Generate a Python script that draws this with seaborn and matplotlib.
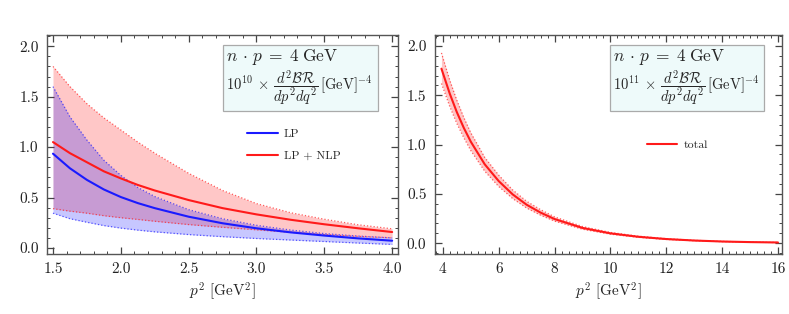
import numpy as np
import pandas as pd
import seaborn as sns
from matplotlib import pyplot as plt
from matplotlib.patches import Rectangle
from matplotlib.ticker import MultipleLocator

# left panel: p^2 grid and LP / LP+NLP curves with their bands
p2_left = [1.5, 1.625, 1.75, 1.875, 2.0, 2.125, 2.25, 2.5, 2.75, 3.0, 3.25, 3.5, 3.75, 4.0]
lp_mid = [0.935, 0.79, 0.675, 0.58, 0.505, 0.445, 0.395, 0.31, 0.245, 0.195, 0.155, 0.123, 0.095, 0.072]
lp_hi = [1.60, 1.30, 1.07, 0.87, 0.72, 0.60, 0.51, 0.38, 0.29, 0.225, 0.178, 0.143, 0.118, 0.10]
lp_lo = [0.345, 0.29, 0.255, 0.222, 0.197, 0.177, 0.16, 0.133, 0.112, 0.094, 0.079, 0.064, 0.049, 0.035]
nlp_mid = [1.05, 0.94, 0.85, 0.76, 0.69, 0.625, 0.57, 0.475, 0.395, 0.333, 0.28, 0.235, 0.195, 0.158]
nlp_hi = [1.80, 1.60, 1.43, 1.29, 1.17, 1.05, 0.94, 0.74, 0.57, 0.44, 0.35, 0.285, 0.23, 0.19]
nlp_lo = [0.39, 0.365, 0.345, 0.32, 0.30, 0.283, 0.265, 0.232, 0.205, 0.18, 0.155, 0.133, 0.115, 0.10]

# right panel: total
p2_right = [3.95, 4.25, 4.5, 4.75, 5.0, 5.5, 6.0, 6.5, 7.0, 7.5, 8.0, 9.0, 10.0, 11.0, 12.0, 13.0, 14.0, 15.0, 16.0]
tot_mid = [1.77, 1.515, 1.33, 1.17, 1.03, 0.80, 0.63, 0.495, 0.39, 0.31, 0.245, 0.155, 0.10, 0.065, 0.042, 0.027, 0.017, 0.011, 0.007]
tot_hi = [1.93, 1.65, 1.45, 1.275, 1.12, 0.87, 0.69, 0.54, 0.425, 0.34, 0.267, 0.169, 0.109, 0.071, 0.046, 0.029, 0.0185, 0.012, 0.0076]
tot_lo = [1.62, 1.385, 1.215, 1.07, 0.94, 0.73, 0.575, 0.453, 0.357, 0.284, 0.224, 0.142, 0.0915, 0.0595, 0.038, 0.0247, 0.0156, 0.010, 0.0064]

sns.set_style('ticks')
plt.rcParams['font.family'] = ['cmr10', 'DejaVu Serif']
plt.rcParams['mathtext.fontset'] = 'cm'
plt.rcParams['axes.unicode_minus'] = False
plt.rcParams['axes.formatter.use_mathtext'] = True

df_left = pd.DataFrame({'p2': p2_left, 'LP': lp_mid, 'LP + NLP': nlp_mid})
df_left = df_left.melt('p2', var_name='curve', value_name='val')
df_right = pd.DataFrame({'p2': p2_right, 'total': tot_mid})

fig = plt.figure(figsize=(7.89, 3.14), dpi=100)
ax1 = fig.add_axes([0.0596, 0.191, 0.445, 0.697])
ax2 = fig.add_axes([0.551, 0.191, 0.44, 0.697])

red = '#ff1a1a'
blue = '#1a1aff'

# bands
ax1.fill_between(p2_left, nlp_lo, nlp_hi, color='red', alpha=0.22, lw=0)
ax1.fill_between(p2_left, lp_lo, lp_hi, color='blue', alpha=0.22, lw=0)
for lo, hi, c in [(nlp_lo, nlp_hi, red), (lp_lo, lp_hi, blue)]:
  ax1.plot(p2_left, lo, ls=':', lw=0.9, color=c, alpha=0.7)
  ax1.plot(p2_left, hi, ls=':', lw=0.9, color=c, alpha=0.7)
sns.lineplot(data=df_left, x='p2', y='val', hue='curve', palette=[blue, red], lw=1.5, ax=ax1)

ax2.fill_between(p2_right, tot_lo, tot_hi, color='red', alpha=0.22, lw=0)
ax2.plot(p2_right, tot_lo, ls=':', lw=0.9, color=red, alpha=0.7)
ax2.plot(p2_right, tot_hi, ls=':', lw=0.9, color=red, alpha=0.7)
sns.lineplot(data=df_right, x='p2', y='total', color=red, lw=1.5, label='total', ax=ax2)

ax1.set_xlim(1.456, 4.044)
ax1.set_ylim(-0.06, 2.11)
ax1.xaxis.set_major_locator(MultipleLocator(0.5))
ax1.xaxis.set_minor_locator(MultipleLocator(0.1))
ax2.set_xlim(3.71, 16.14)
ax2.set_ylim(-0.11, 2.11)
ax2.xaxis.set_major_locator(MultipleLocator(2))
ax2.xaxis.set_minor_locator(MultipleLocator(0.25))

for ax in (ax1, ax2):
  ax.yaxis.set_major_locator(MultipleLocator(0.5))
  ax.yaxis.set_minor_locator(MultipleLocator(0.1))
  ax.tick_params(which='both', direction='in', top=True, right=True, color='#444444',
                 labelsize=11, labelcolor='#222222')
  ax.tick_params(which='major', length=5, width=0.9, pad=6)
  ax.tick_params(which='minor', length=2.5, width=0.7)
  for s in ax.spines.values():
    s.set_color('#555555')
    s.set_linewidth(1.0)
  ax.set_xlabel('$p^2$ [GeV$^2$]', fontsize=11, labelpad=3)
  ax.set_ylabel('')

ax1.xaxis.set_major_formatter(plt.FuncFormatter(lambda v, p: '%.1f' % v))
ax1.yaxis.set_major_formatter(plt.FuncFormatter(lambda v, p: '%.1f' % v))
ax2.yaxis.set_major_formatter(plt.FuncFormatter(lambda v, p: '%.1f' % v))
ax2.xaxis.set_major_formatter(plt.FuncFormatter(lambda v, p: '%d' % v))

# info boxes
boxes = [(ax1, 0.50, 0.942, '10'), (ax2, 0.504, 0.949, '11')]
for ax, x0, x1, ex in boxes:
  ax.add_patch(Rectangle((x0, 0.653), x1 - x0, 0.954 - 0.653, transform=ax.transAxes,
                         facecolor='#eefafa', edgecolor='#aaaaaa', lw=0.9, zorder=5))
  ax.text(x0 + 0.01, 0.898, r'$n \,\cdot\, p \;=\; 4\;\mathrm{GeV}$', transform=ax.transAxes,
          fontsize=12.5, va='center', ha='left', zorder=6)
  ax.text(x0 + 0.01, 0.758,
          r'$10^{%s}\,\times\,\dfrac{d^2\mathcal{BR}}{dp^2dq^2}\,[\mathrm{GeV}]^{-4}$' % ex,
          transform=ax.transAxes, fontsize=10.5, va='center', ha='left', zorder=6)

leg1 = ax1.legend(loc='upper left', bbox_to_anchor=(0.54, 0.62), frameon=False,
                  fontsize=8.5, handlelength=2.6, labelspacing=0.95, handletextpad=0.5)
leg2 = ax2.legend(loc='upper left', bbox_to_anchor=(0.58, 0.572), frameon=False,
                  fontsize=8.5, handlelength=2.6, handletextpad=0.5)

fig.savefig('out.png', dpi=100)
